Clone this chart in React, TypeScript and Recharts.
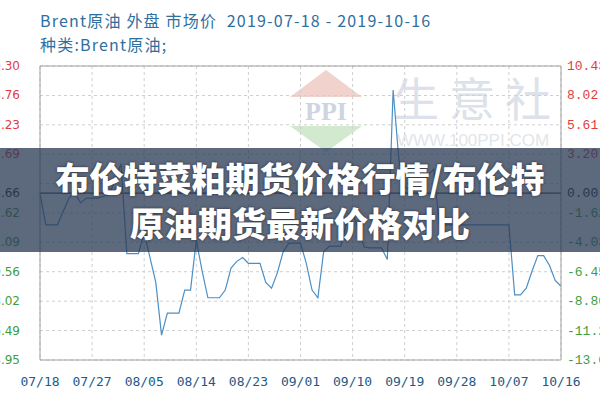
import React from "react";
import { LineChart, Line, XAxis, YAxis, CartesianGrid, ReferenceLine } from "recharts";

// x axis labels, one every 9 days starting 2019-07-18
const tickLabels = ["07/18", "07/27", "08/05", "08/14", "08/23", "09/01", "09/10", "09/19", "09/28", "10/07", "10/16"];

// Brent daily price, day 0 = 07/18 (weekends / holidays hold the previous value)
const brentPrice = [
  63.66, 62.0, 62.0, 62.0, 62.7, 63.4, 63.7, 63.15, 63.4, 63.4,
  63.4, 63.5, 63.6, 64.4, 65.2, 60.5, 60.5, 60.5, 61.6, 60.3,
  59.0, 56.25, 57.4, 57.4, 57.4, 58.6, 58.6, 61.2, 59.6, 58.2,
  58.2, 58.2, 58.6, 59.75, 60.1, 60.3, 60.0, 60.0, 60.0, 59.0,
  58.7, 59.5, 60.6, 61.05, 61.05, 61.05, 60.0, 58.6, 58.2, 60.6,
  60.9, 60.9, 60.9, 62.2, 62.6, 61.8, 60.85, 60.8, 60.8, 60.8,
  60.2, 69.05, 65.4, 64.0, 63.8, 64.3, 64.1, 64.6, 64.9, 62.0,
  62.0, 62.0, 62.0, 62.0, 62.0, 62.0, 62.0, 62.0, 62.0, 62.0,
  62.0, 62.0, 58.35, 58.35, 58.7, 59.6, 60.4, 60.4, 59.9, 59.1,
  58.8,
];

const basePrice = 63.66;
const hiddenPriceTick = 64.16;
const priceTicks = [54.95, 56.49, 58.02, 59.56, 61.09, 62.62, 63.66, 64.16, 65.69, 67.23, 68.76, 70.3];
const pctTicks = [10.43, 8.02, 5.61, 3.2, 0, -1.62, -4.03, -6.45, -8.86, -11.27, -13.68];
const dayTicks = [0, 9, 18, 27, 36, 45, 54, 63, 72, 81, 90];

const data = brentPrice.map((price, day) => ({ day, price }));

const RED = "#e23c3c";
const GREEN = "#3d9e3d";
const DARK = "#1c2c40";

const PriceTick = (props: any) => {
  const { y, payload } = props;
  const v = payload.value;
  if (v === hiddenPriceTick) return <g />;
  const fill = v === basePrice ? DARK : v > basePrice ? RED : GREEN;
  return (
    <text x={20} y={y} dy={4} textAnchor="end" fill={fill} fontSize={12} fontFamily="DejaVu Sans">
      {v.toFixed(2)}
    </text>
  );
};

const PctTick = (props: any) => {
  const { y, payload } = props;
  const v = payload.value;
  const fill = v === 0 ? DARK : v > 0 ? RED : GREEN;
  return (
    <text x={567} y={y} dy={4} textAnchor="start" fill={fill} fontSize={13} fontFamily="Liberation Mono">
      {v.toFixed(2)}
    </text>
  );
};

const DayTick = (props: any) => {
  const { x, payload } = props;
  return (
    <text x={x} y={386} textAnchor="middle" fill="#1d5a86" fontSize={13} fontFamily="DejaVu Sans Mono">
      {tickLabels[dayTicks.indexOf(payload.value)]}
    </text>
  );
};

const Watermark = () => (
  <svg width={600} height={400} style={{ position: "absolute", left: 0, top: 0 }}>
    <polygon points="326,70 362,97 290,97" fill="#f2d2cc" />
    <polygon points="290,126 362,126 326,152" fill="#d2e9d0" />
    <text x={326} y={120} textAnchor="middle" fontSize={26} fontWeight={700} fontFamily="Liberation Serif" fill="#cdd5e0">
      PPI
    </text>
    <text x={393} y={116} fontSize={46} fontFamily="Noto Sans CJK SC" fill="#dde2ea" letterSpacing={10}>
      生意社
    </text>
    <text x={397} y={146} fontSize={17} fontFamily="Liberation Sans" fill="#e2e5ea">
      WWW.100PPI.COM
    </text>
  </svg>
);

export default function App() {
  return (
    <div style={{ position: "absolute", left: 0, top: 0, width: 600, height: 400, background: "#fff", overflow: "hidden" }}>
      <Watermark />
      <div style={{ position: "absolute", left: 40, top: 8, color: "#2f6f9f", fontSize: 16, letterSpacing: 1.2, fontFamily: "'Noto Sans CJK SC', sans-serif", whiteSpace: "pre", lineHeight: "24px" }}>
        {"Brent原油 外盘 市场价  2019-07-18 - 2019-10-16"}
        <br />
        {"种类:Brent原油;"}
      </div>
      <div style={{ position: "absolute", left: 0, top: 0 }}>
        <LineChart width={600} height={400} data={data} margin={{ top: 66, right: 0, bottom: 0, left: 0 }}>
          <CartesianGrid stroke="#cfcfcf" strokeDasharray="3 3" />
          <XAxis
            dataKey="day"
            type="number"
            domain={[0, 90]}
            ticks={dayTicks}
            interval={0}
            height={40}
            tickLine={false}
            axisLine={{ stroke: "#a0a0a0" }}
            tick={<DayTick />}
          />
          <YAxis
            type="number"
            domain={[54.95, 70.3]}
            allowDataOverflow
            ticks={priceTicks}
            interval={0}
            width={40}
            tickLine={false}
            axisLine={{ stroke: "#a0a0a0" }}
            tick={<PriceTick />}
          />
          <YAxis
            yAxisId="pct"
            orientation="right"
            type="number"
            domain={[-13.68, 10.43]}
            allowDataOverflow
            ticks={pctTicks}
            interval={0}
            width={39}
            tickLine={false}
            axisLine={{ stroke: "#a0a0a0" }}
            tick={<PctTick />}
          />
          <ReferenceLine y={70.3} stroke="#a0a0a0" />
          <ReferenceLine y={basePrice} stroke="#3a5068" strokeWidth={1.2} />
          <Line
            type="linear"
            dataKey="price"
            stroke="#4a8fc6"
            strokeWidth={1.2}
            dot={false}
            isAnimationActive={false}
          />
        </LineChart>
      </div>
      <div
        style={{
          position: "absolute",
          left: 0,
          top: 148,
          width: 600,
          height: 104,
          background: "rgba(42, 58, 84, 0.76)",
          display: "flex",
          flexDirection: "column",
          alignItems: "center",
          justifyContent: "center",
          color: "#fff",
          fontFamily: "'Noto Sans CJK SC', sans-serif",
          fontWeight: 900,
          fontSize: 34,
          lineHeight: "45px",
          textShadow: "0 0 3px rgba(0,0,0,0.6)",
          textAlign: "center",
        }}
      >
        <div>布伦特菜粕期货价格行情/布伦特</div>
        <div>原油期货最新价格对比</div>
      </div>
    </div>
  );
}
